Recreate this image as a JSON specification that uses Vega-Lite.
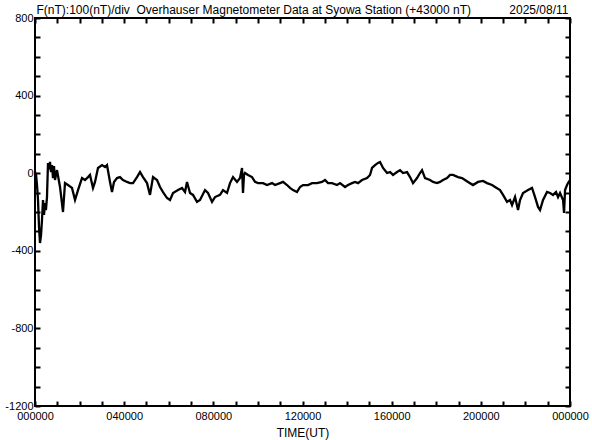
{
  "$schema": "https://vega.github.io/schema/vega-lite/v6.json",
  "width": 535,
  "height": 388,
  "autosize": {"type": "none"},
  "padding": {"left": 35, "top": 18, "right": 22, "bottom": 34},
  "background": "white",
  "config": {
    "view": {"stroke": "black", "strokeWidth": 2},
    "axis": {
      "domain": false,
      "grid": false,
      "tickColor": "black",
      "tickWidth": 2,
      "labelFont": "Liberation Sans",
      "labelFontSize": 11,
      "labelColor": "black",
      "titleFont": "Liberation Sans",
      "titleFontSize": 12,
      "titleFontWeight": "normal",
      "titleColor": "black"
    }
  },
  "data": {
    "values": [
      {"h": 0, "v": 6}, {"h": 0.045, "v": -4}, {"h": 0.09, "v": -61}, {"h": 0.135, "v": -138},
      {"h": 0.18, "v": -277}, {"h": 0.224, "v": -360}, {"h": 0.27, "v": -319}, {"h": 0.314, "v": -241},
      {"h": 0.359, "v": -138}, {"h": 0.404, "v": -215}, {"h": 0.449, "v": -154}, {"h": 0.49, "v": -190},
      {"h": 0.538, "v": -123}, {"h": 0.583, "v": 53}, {"h": 0.63, "v": 20}, {"h": 0.673, "v": 58}, {"h": 0.718, "v": 6},
      {"h": 0.763, "v": 42}, {"h": 0.808, "v": -25}, {"h": 0.852, "v": 37}, {"h": 0.897, "v": -35},
      {"h": 0.987, "v": 16}, {"h": 1.122, "v": -71}, {"h": 1.256, "v": -200}, {"h": 1.346, "v": -51},
      {"h": 1.48, "v": -61}, {"h": 1.66, "v": -76}, {"h": 1.795, "v": -138}, {"h": 1.929, "v": -87},
      {"h": 2.109, "v": -25}, {"h": 2.243, "v": -35}, {"h": 2.378, "v": -20}, {"h": 2.467, "v": -9},
      {"h": 2.602, "v": -76}, {"h": 2.692, "v": -45}, {"h": 2.826, "v": 27}, {"h": 3.006, "v": 42},
      {"h": 3.14, "v": 32}, {"h": 3.23, "v": 42}, {"h": 3.365, "v": -45}, {"h": 3.454, "v": -97},
      {"h": 3.544, "v": -45}, {"h": 3.679, "v": -25}, {"h": 3.813, "v": -20}, {"h": 3.948, "v": -35},
      {"h": 4.127, "v": -45}, {"h": 4.262, "v": -51}, {"h": 4.397, "v": -51}, {"h": 4.576, "v": -20},
      {"h": 4.711, "v": 6}, {"h": 4.845, "v": -20}, {"h": 5.025, "v": -51}, {"h": 5.159, "v": -112},
      {"h": 5.294, "v": -20}, {"h": 5.473, "v": -35}, {"h": 5.608, "v": -71}, {"h": 5.743, "v": -97},
      {"h": 5.922, "v": -128}, {"h": 6.057, "v": -138}, {"h": 6.191, "v": -102}, {"h": 6.416, "v": -87},
      {"h": 6.595, "v": -76}, {"h": 6.73, "v": -97}, {"h": 6.819, "v": -45}, {"h": 6.954, "v": -102},
      {"h": 7.088, "v": -112}, {"h": 7.268, "v": -148}, {"h": 7.402, "v": -138}, {"h": 7.627, "v": -87},
      {"h": 7.761, "v": -102}, {"h": 7.941, "v": -148}, {"h": 8.075, "v": -123}, {"h": 8.3, "v": -112},
      {"h": 8.434, "v": -87}, {"h": 8.614, "v": -102}, {"h": 8.748, "v": -51}, {"h": 8.883, "v": -20},
      {"h": 9.062, "v": -45}, {"h": 9.197, "v": -25}, {"h": 9.287, "v": 27}, {"h": 9.331, "v": -102},
      {"h": 9.376, "v": -9}, {"h": 9.421, "v": 1}, {"h": 9.556, "v": -9}, {"h": 9.735, "v": -20},
      {"h": 9.87, "v": -45}, {"h": 10.004, "v": -51}, {"h": 10.229, "v": -51}, {"h": 10.408, "v": -61},
      {"h": 10.633, "v": -51}, {"h": 10.767, "v": -61}, {"h": 10.991, "v": -51}, {"h": 11.126, "v": -45},
      {"h": 11.306, "v": -61}, {"h": 11.44, "v": -76}, {"h": 11.575, "v": -87}, {"h": 11.754, "v": -97},
      {"h": 11.889, "v": -71}, {"h": 12.023, "v": -61}, {"h": 12.248, "v": -61}, {"h": 12.427, "v": -51},
      {"h": 12.651, "v": -51}, {"h": 12.876, "v": -45}, {"h": 13.01, "v": -35}, {"h": 13.145, "v": -51},
      {"h": 13.324, "v": -51}, {"h": 13.549, "v": -61}, {"h": 13.683, "v": -51}, {"h": 13.908, "v": -71},
      {"h": 14.042, "v": -61}, {"h": 14.222, "v": -51}, {"h": 14.356, "v": -45}, {"h": 14.491, "v": -51},
      {"h": 14.67, "v": -35}, {"h": 14.895, "v": -25}, {"h": 15.029, "v": -9}, {"h": 15.119, "v": 27},
      {"h": 15.254, "v": 42}, {"h": 15.388, "v": 53}, {"h": 15.478, "v": 58}, {"h": 15.613, "v": 27},
      {"h": 15.792, "v": 1}, {"h": 15.927, "v": 6}, {"h": 16.061, "v": -9}, {"h": 16.241, "v": 6},
      {"h": 16.375, "v": 16}, {"h": 16.51, "v": 1}, {"h": 16.689, "v": 6}, {"h": 16.824, "v": -20},
      {"h": 16.958, "v": -51}, {"h": 17.138, "v": -25}, {"h": 17.272, "v": 1}, {"h": 17.362, "v": 16},
      {"h": 17.497, "v": -25}, {"h": 17.721, "v": -35}, {"h": 17.856, "v": -45}, {"h": 18.035, "v": -51},
      {"h": 18.17, "v": -45}, {"h": 18.304, "v": -35}, {"h": 18.484, "v": -25}, {"h": 18.618, "v": -9},
      {"h": 18.753, "v": -9}, {"h": 18.977, "v": -20}, {"h": 19.157, "v": -25}, {"h": 19.291, "v": -35},
      {"h": 19.426, "v": -45}, {"h": 19.65, "v": -61}, {"h": 19.874, "v": -45}, {"h": 20.099, "v": -40},
      {"h": 20.278, "v": -51}, {"h": 20.503, "v": -61}, {"h": 20.637, "v": -71}, {"h": 20.862, "v": -87},
      {"h": 20.996, "v": -112}, {"h": 21.176, "v": -148}, {"h": 21.31, "v": -138}, {"h": 21.4, "v": -164},
      {"h": 21.535, "v": -123}, {"h": 21.669, "v": -190}, {"h": 21.759, "v": -138}, {"h": 21.893, "v": -102},
      {"h": 22.118, "v": -87}, {"h": 22.297, "v": -76}, {"h": 22.432, "v": -123}, {"h": 22.566, "v": -174},
      {"h": 22.656, "v": -190}, {"h": 22.791, "v": -138}, {"h": 22.97, "v": -97}, {"h": 23.105, "v": -102},
      {"h": 23.239, "v": -112}, {"h": 23.374, "v": -97}, {"h": 23.464, "v": -123}, {"h": 23.553, "v": -102},
      {"h": 23.688, "v": -138}, {"h": 23.733, "v": -205}, {"h": 23.778, "v": -87}, {"h": 23.867, "v": -61},
      {"h": 23.912, "v": -51}, {"h": 24, "v": -35}
    ]
  },
  "layer": [
    {
      "mark": {"type": "line", "color": "black", "strokeWidth": 2.3, "clip": true},
      "encoding": {
        "x": {
          "field": "h", "type": "quantitative",
          "scale": {"domain": [0, 24], "nice": false, "zero": false},
          "axis": {
            "orient": "bottom",
            "values": [0,1,2,3,4,5,6,7,8,9,10,11,12,13,14,15,16,17,18,19,20,21,22,23,24],
            "labelExpr": "datum.value % 4 == 0 ? (datum.value == 24 ? '000000' : (datum.value < 10 ? '0' : '') + datum.value + '0000') : ''",
            "tickSize": -5,
            "labelPadding": 9,
            "labelFlush": false,
            "labelOverlap": false,
            "title": "TIME(UT)",
            "titleY": 30,
            "titleBaseline": "alphabetic"
          }
        },
        "y": {
          "field": "v", "type": "quantitative",
          "scale": {"domain": [-1200, 800], "nice": false, "zero": false},
          "axis": {
            "orient": "left",
            "values": [-1200,-1100,-1000,-900,-800,-700,-600,-500,-400,-300,-200,-100,0,100,200,300,400,500,600,700,800],
            "labelExpr": "datum.value % 400 == 0 ? datum.value + '' : ''",
            "tickSize": -5,
            "labelPadding": 7,
            "labelFlush": false,
            "labelOverlap": false,
            "title": null
          }
        }
      }
    },
    {
      "mark": {"type": "line", "opacity": 0},
      "encoding": {
        "x": {
          "field": "h", "type": "quantitative",
          "axis": {
            "orient": "top",
            "values": [0,1,2,3,4,5,6,7,8,9,10,11,12,13,14,15,16,17,18,19,20,21,22,23,24],
            "labels": false,
            "tickSize": -5,
            "title": "F(nT):100(nT)/div\u00a0 Overhauser Magnetometer Data at Syowa Station (+43000 nT)",
            "titleAnchor": "start",
            "titleAlign": "left",
            "titleX": 1,
            "titleY": -5,
            "titleBaseline": "alphabetic"
          }
        },
        "y": {
          "field": "v", "type": "quantitative",
          "axis": {
            "orient": "right",
            "values": [-1200,-1100,-1000,-900,-800,-700,-600,-500,-400,-300,-200,-100,0,100,200,300,400,500,600,700,800],
            "labels": false,
            "tickSize": -5,
            "title": "2025/08/11",
            "titleAngle": 0,
            "titleAlign": "right",
            "titleBaseline": "alphabetic",
            "titleX": -2,
            "titleY": -5
          }
        }
      }
    }
  ],
  "resolve": {"axis": {"x": "independent", "y": "independent"}}
}
